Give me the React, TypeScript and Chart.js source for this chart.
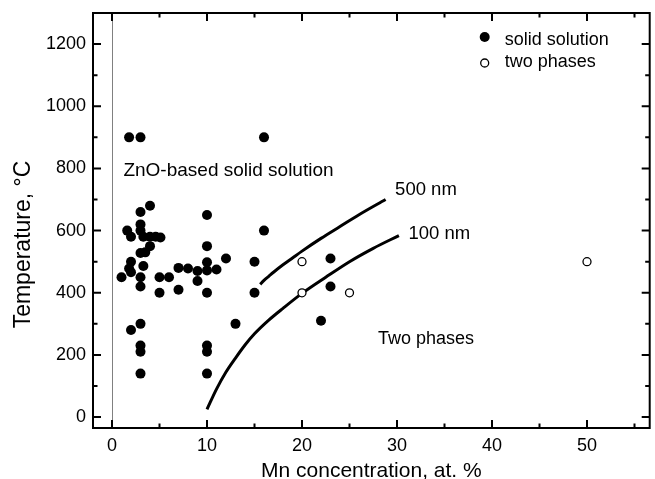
import React, { useEffect, useRef } from "react";
import { Chart, registerables } from "chart.js";

Chart.register(...registerables);

// ---- Data ----
const solidX = [
  1.8, 3, 16,
  4, 3, 10, 3, 1.6, 3, 16,
  2, 3.3, 4, 4.6, 5.1,
  4, 10,
  3, 3.5, 12, 23,
  2, 10, 15,
  3.3, 1.8, 2, 7, 8, 9, 10, 11, 9,
  1, 3, 5, 6,
  3, 23, 5, 7, 10, 15,
  22, 3, 13, 2,
  3, 10, 3, 10, 3, 10,
];
const solidY = [
  900, 900, 900,
  680, 660, 650, 620, 600, 600, 600,
  580, 580, 580, 580, 578,
  550, 550,
  528, 530, 510, 510,
  500, 498, 500,
  486, 478, 466, 480, 478, 470, 472, 475, 438,
  450, 450, 450, 450,
  420, 420, 400, 410, 400, 400,
  310, 300, 300, 280,
  230, 230, 210, 210, 140, 140,
];

const twoPhaseX = [20, 20, 25, 50];
const twoPhaseY = [500, 400, 400, 500];

const curve500X = [15.6, 16, 16.5, 17, 18, 19, 20, 22, 24, 26, 28.8];
const curve500Y = [427, 440, 453, 466, 490, 512, 534, 575, 613, 651, 700];

const curve100X = [10, 11, 12, 13, 14, 15, 16.5, 18, 20, 22.5, 25, 27.5, 30.2];
const curve100Y = [25, 90, 145, 190, 232, 268, 312, 350, 398, 450, 500, 543, 584];

const xTicks = [0, 10, 20, 30, 40, 50];
const xMinorTicks = [5, 15, 25, 35, 45, 55];
const yTicks = [0, 200, 400, 600, 800, 1000, 1200];
const yMinorTicks = [100, 300, 500, 700, 900, 1100];

const xTitle = "Mn concentration, at. %";
const yTitle = "Temperature, \u00B0C";
const legendLabels = ["solid solution", "two phases"];
const curveLabels = ["500 nm", "100 nm"];
const regionLabels = ["ZnO-based solid solution", "Two phases"];

// text anchor positions in data units
const labelAnchors = [
  { text: regionLabels[0], x: 1.2, y: 793, size: 19 },
  { text: curveLabels[0], x: 29.8, y: 732, size: 18.5 },
  { text: curveLabels[1], x: 31.2, y: 590, size: 18.5 },
  { text: regionLabels[1], x: 28.0, y: 250, size: 18 },
];

const FONT = "'Liberation Sans', Arial, Helvetica, sans-serif";

const framePlugin = {
  id: "framePlugin",
  beforeDatasetsDraw(chart: any) {
    const { ctx, chartArea: a, scales } = chart;
    const xs = scales.x;
    ctx.save();
    const x0 = Math.round(xs.getPixelForValue(0)) + 0.5;
    ctx.strokeStyle = "#808080";
    ctx.lineWidth = 1;
    ctx.beginPath();
    ctx.moveTo(x0, a.top);
    ctx.lineTo(x0, a.bottom);
    ctx.stroke();
    ctx.restore();
  },
  afterDatasetsDraw(chart: any) {
    const { ctx, chartArea: a, scales } = chart;
    const xs = scales.x;
    const ys = scales.y;
    ctx.save();
    ctx.strokeStyle = "#000";
    ctx.lineWidth = 2;
    ctx.strokeRect(a.left, a.top, a.right - a.left, a.bottom - a.top);

    const major = 8;
    const minor = 4.5;
    ctx.beginPath();
    const vt = (v: number, len: number) => {
      const p = xs.getPixelForValue(v);
      ctx.moveTo(p, a.bottom);
      ctx.lineTo(p, a.bottom - len);
      ctx.moveTo(p, a.top);
      ctx.lineTo(p, a.top + len);
    };
    const ht = (v: number, len: number) => {
      const p = ys.getPixelForValue(v);
      ctx.moveTo(a.left, p);
      ctx.lineTo(a.left + len, p);
      ctx.moveTo(a.right, p);
      ctx.lineTo(a.right - len, p);
    };
    xTicks.forEach((v) => vt(v, major));
    xMinorTicks.forEach((v) => vt(v, minor));
    yTicks.forEach((v) => ht(v, major));
    yMinorTicks.forEach((v) => ht(v, minor));
    ctx.stroke();

    // annotations
    ctx.fillStyle = "#000";
    ctx.textAlign = "left";
    ctx.textBaseline = "middle";
    labelAnchors.forEach((l) => {
      ctx.font = `${l.size}px ${FONT}`;
      ctx.fillText(l.text, xs.getPixelForValue(l.x), ys.getPixelForValue(l.y));
    });

    // legend
    const ds = chart.data.datasets;
    const mx = a.right - 165;
    const tx = a.right - 145;
    const rows = [
      { my: a.top + 24, ty: a.top + 27, d: ds[0] },
      { my: a.top + 50, ty: a.top + 49, d: ds[1] },
    ];
    ctx.font = `18px ${FONT}`;
    rows.forEach((r, i) => {
      ctx.beginPath();
      ctx.arc(mx, r.my, r.d.pointRadius, 0, Math.PI * 2);
      ctx.fillStyle = r.d.pointBackgroundColor;
      ctx.fill();
      if (r.d.pointBorderWidth > 0) {
        ctx.lineWidth = r.d.pointBorderWidth;
        ctx.strokeStyle = r.d.pointBorderColor;
        ctx.stroke();
      }
      ctx.fillStyle = "#000";
      ctx.fillText(legendLabels[i], tx, r.ty);
    });

    // y axis title
    ctx.save();
    ctx.font = `23px ${FONT}`;
    ctx.textAlign = "center";
    ctx.textBaseline = "middle";
    ctx.translate(ys.left + 24, (a.top + a.bottom) / 2 + 24);
    ctx.rotate(-Math.PI / 2);
    ctx.fillText(yTitle, 0, 0);
    ctx.restore();

    ctx.restore();
  },
};

export default function App() {
  const ref = useRef<HTMLCanvasElement | null>(null);

  useEffect(() => {
    if (!ref.current) return;
    const pts = (xs: number[], ys: number[]) => xs.map((x, i) => ({ x, y: ys[i] }));
    const chart = new Chart(ref.current, {
      type: "scatter",
      data: {
        datasets: [
          {
            label: legendLabels[0],
            data: pts(solidX, solidY),
            pointRadius: 5,
            pointBackgroundColor: "#000",
            pointBorderColor: "#000",
            pointBorderWidth: 0,
            showLine: false,
          },
          {
            label: legendLabels[1],
            data: pts(twoPhaseX, twoPhaseY),
            pointRadius: 4,
            pointBackgroundColor: "#fff",
            pointBorderColor: "#000",
            pointBorderWidth: 1.3,
            showLine: false,
          },
          {
            label: curveLabels[0],
            data: pts(curve500X, curve500Y),
            showLine: true,
            borderColor: "#000",
            borderWidth: 3,
            pointRadius: 0,
            cubicInterpolationMode: "monotone",
            fill: false,
          },
          {
            label: curveLabels[1],
            data: pts(curve100X, curve100Y),
            showLine: true,
            borderColor: "#000",
            borderWidth: 3,
            pointRadius: 0,
            cubicInterpolationMode: "monotone",
            fill: false,
          },
        ],
      } as any,
      options: {
        animation: false,
        responsive: false,
        layout: { padding: { top: 13, right: 5, left: 0, bottom: 0 } },
        plugins: { legend: { display: false }, tooltip: { enabled: false } },
        scales: {
          x: {
            type: "linear",
            min: -2,
            max: 56.6,
            grid: { display: false, drawTicks: false },
            border: { display: false },
            ticks: {
              font: { size: 18, family: FONT },
              color: "#000",
              padding: 7,
              maxRotation: 0,
              callback: (v: any) => String(v),
            },
            afterBuildTicks: (s: any) => {
              s.ticks = xTicks.map((v) => ({ value: v }));
            },
            afterFit: (s: any) => {
              s.height = 51;
              s.paddingLeft = 0;
              s.paddingRight = 0;
            },
            title: {
              display: true,
              text: xTitle,
              color: "#000",
              font: { size: 21, family: FONT, lineHeight: "16px" },
              padding: 0,
            },
          },
          y: {
            type: "linear",
            min: -35,
            max: 1300,
            grid: { display: false, drawTicks: false },
            border: { display: false },
            ticks: {
              font: { size: 18, family: FONT },
              color: "#000",
              padding: 7,
              callback: (v: any) => String(v),
            },
            afterBuildTicks: (s: any) => {
              s.ticks = yTicks.map((v) => ({ value: v }));
            },
            afterFit: (s: any) => {
              s.width = 93;
              s.paddingTop = 0;
              s.paddingBottom = 0;
            },
          },
        },
      } as any,
      plugins: [framePlugin],
    });
    return () => chart.destroy();
  }, []);

  return (
    <div style={{ position: "absolute", left: 0, top: 0, width: 655, height: 479, background: "#fff" }}>
      <canvas ref={ref} width={655} height={479} style={{ display: "block" }} />
    </div>
  );
}
